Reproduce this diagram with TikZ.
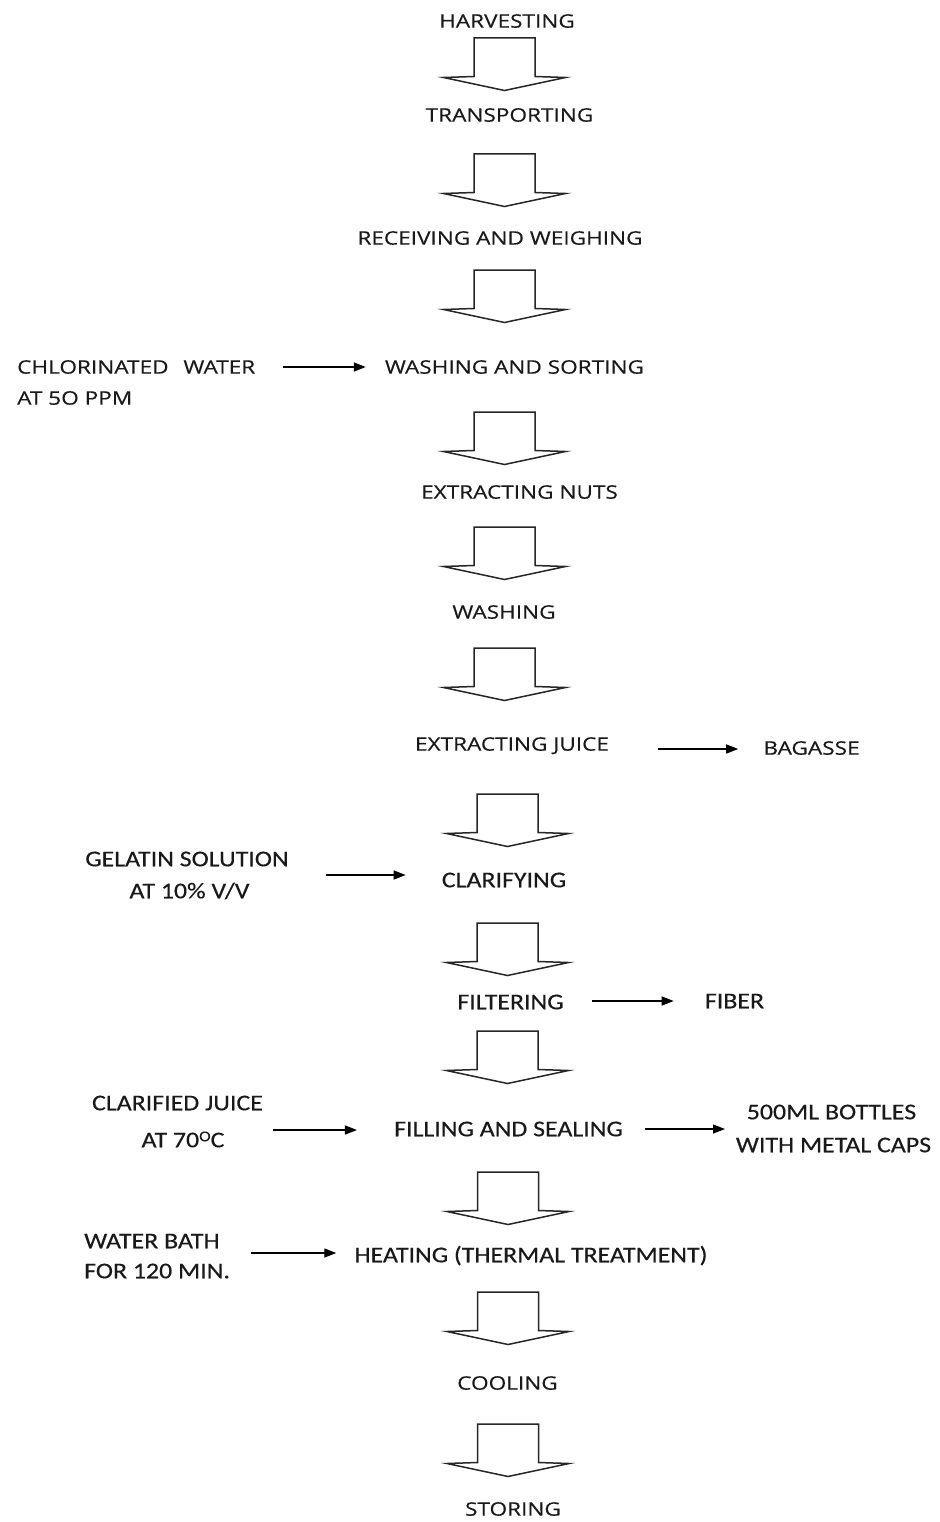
\documentclass[tikz,border=0pt]{standalone}
\usepackage{fontspec}
\setmainfont{Open Sans}
\newfontfamily\segfont[FakeStretch=1.215,FakeBold=0.4]{Open Sans}
\newfontfamily\calfont[FakeStretch=1.15,FakeBold=0.4]{Carlito}
\usetikzlibrary{arrows.meta,calc}
\tikzset{
  seg/.style={font=\segfont\fontsize{18.6}{22}\selectfont, text=black!90, inner sep=0pt, text height=13.3pt, text depth=0pt},
  cal/.style={font=\calfont\fontsize{22.5}{26}\selectfont, text=black!90, inner sep=0pt, text height=14.5pt, text depth=0pt},
  side/.style={draw=black, line width=1.3pt, -{Triangle[length=12pt,width=9pt]}},
  bigarrowline/.style={draw=black!85, line width=1.5pt, fill=white, line join=miter},
  pics/bigarrow/.style={code={
    \draw[bigarrowline] (-30.5,0) -- (30.5,0) -- (30.5,38.5) -- (61,39.5) -- (0,52.5) -- (-61,39.5) -- (-30.5,38.5) -- cycle;
  }},
}
\begin{document}
\begin{tikzpicture}[x=1pt,y=-1pt]
\useasboundingbox (0,0) rectangle (939,1522);
\fill[white] (0,0) rectangle (939,1522);

% block arrows
\pic (a1) at (504.5,38) {bigarrow};
\pic (a2) at (504.5,154) {bigarrow};
\pic (a3) at (504.5,270) {bigarrow};
\pic (a4) at (504.5,412) {bigarrow};
\pic (a5) at (504.5,527) {bigarrow};
\pic (a6) at (504.5,648) {bigarrow};
\pic (a7) at (507.5,794) {bigarrow};
\pic (a8) at (507.5,923) {bigarrow};
\pic (a9) at (507.5,1031) {bigarrow};
\pic (a10) at (508,1172) {bigarrow};
\pic (a11) at (508,1292) {bigarrow};
\pic (a12) at (508,1424) {bigarrow};

% texts
\node[seg] (harv) at (507,21) {HARVESTING};
\node[seg] (trans) at (509.5,115) {TRANSPORTING};
\node[seg] (recv) at (500,238) {RECEIVING AND WEIGHING};
\node[seg, anchor=west] (chl1) at (17,367) {CHLORINATED\hspace{9pt} WATER};
\node[seg, anchor=west] (chl2) at (17,398) {AT 5O PPM};
\node[seg] (wsort) at (514.5,367) {WASHING AND SORTING};
\node[seg] (enuts) at (519.5,492) {EXTRACTING NUTS};
\node[seg] (wash) at (504,612) {WASHING};
\node[seg] (ejuice) at (512,744) {EXTRACTING JUICE};
\node[seg] (bag) at (811.5,748) {BAGASSE};
\node[cal] (gel1) at (187,859) {GELATIN SOLUTION};
\node[cal] (gel2) at (189.5,891) {AT 10\% V/V};
\node[cal] (clar) at (504,880) {CLARIFYING};
\node[cal] (filt) at (510.5,1002) {FILTERING};
\node[cal] (fib) at (734.5,1001) {FIBER};
\node[cal] (cj1) at (177.5,1103) {CLARIFIED JUICE};
\node[cal] (cj2) at (183,1140) {AT 70\raisebox{6pt}{\fontsize{15}{15}\selectfont O}C};
\node[cal] (fill) at (508.5,1129) {FILLING AND SEALING};
\node[cal] (bot1) at (831.5,1112) {500ML BOTTLES};
\node[cal] (bot2) at (833.5,1145) {WITH METAL CAPS};
\node[cal, anchor=west] (wb1) at (84,1241) {WATER BATH};
\node[cal, anchor=west] (wb2) at (84,1271) {FOR 120 MIN.};
\node[cal] (heat) at (531,1255) {HEATING (THERMAL TREATMENT)};
\node[seg] (cool) at (507.5,1383) {COOLING};
\node[seg] (stor) at (513,1509) {STORING};

% side arrows
\coordinate (s1) at (283,367);
\draw[side, shorten >=19pt] (s1) -- (s1 -| wsort.west);
\coordinate (s2) at (658,749);
\draw[side, shorten >=25pt] (s2) -- (s2 -| bag.west);
\coordinate (s3) at (326,875);
\draw[side, shorten >=36pt] (s3) -- (s3 -| clar.west);
\coordinate (s4) at (592,1001);
\draw[side, shorten >=31pt] (s4) -- (s4 -| fib.west);
\coordinate (s5) at (273,1130);
\draw[side, shorten >=37pt] (s5) -- (s5 -| fill.west);
\coordinate (s6) at (645,1129);
\coordinate (bott) at (725,1129);
\draw[side] (s6) -- (s6 -| bott);
\coordinate (s7) at (251,1253);
\draw[side, shorten >=18pt] (s7) -- (s7 -| heat.west);
\end{tikzpicture}
\end{document}
